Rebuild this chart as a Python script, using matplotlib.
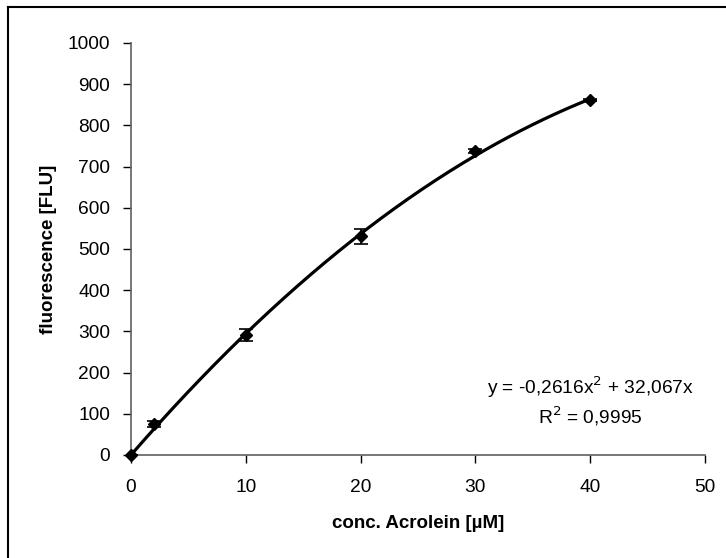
import numpy as np
import matplotlib.pyplot as plt
from matplotlib.lines import Line2D

plt.rcParams['font.family'] = ['Liberation Sans', 'DejaVu Sans']

# calibration points
conc = [0, 2, 10, 20, 30, 40]
fluor = [0, 75, 291, 531, 738, 862]
fluor_err = [0, 7, 15, 18, 5, 3]

# quadratic trendline y = a*x^2 + b*x
coef_a = -0.2616
coef_b = 32.067
r_squared = 0.9995

x_ticks = [0, 10, 20, 30, 40, 50]
y_ticks = [0, 100, 200, 300, 400, 500, 600, 700, 800, 900, 1000]

fig = plt.figure(figsize=(7.26, 5.58), dpi=100)
ax = fig.add_axes([0.1804, 0.1846, 0.7906, 0.7384])

xs = np.linspace(0, 40, 200)
ax.plot(xs, coef_a * xs ** 2 + coef_b * xs, color='black', lw=2.3, zorder=2)
marks = ax.errorbar(conc, fluor, yerr=fluor_err, fmt='D', color='black', ms=6.5,
                    ecolor='black', elinewidth=1.2, capsize=5, capthick=1.2,
                    zorder=3)
marks[0].set_clip_on(False)

ax.set_xlim(0, 50)
ax.set_ylim(0, 1000)
ax.set_xticks(x_ticks)
ax.set_yticks(y_ticks)
ax.tick_params(direction='out', length=6, width=1, color='black',
               labelsize=13.8)
ax.tick_params(axis='x', pad=11)
ax.tick_params(axis='y', pad=9)

for side in ['top', 'right']:
    ax.spines[side].set_visible(False)
for side in ['left', 'bottom']:
    ax.spines[side].set_color('#606060')
    ax.spines[side].set_linewidth(1.2)

ax.set_xlabel('conc. Acrolein [µM]', fontsize=13.5, fontweight='bold',
              labelpad=14)
ax.set_ylabel('fluorescence [FLU]', fontsize=13.5, fontweight='bold',
              labelpad=8)

eq = 'y = -0,2616x$^{2}$ + 32,067x'
ax.text(40.0, 165, eq, fontsize=13.8, ha='center', va='center')
ax.text(40.0, 95, 'R$^{2}$ = 0,9995', fontsize=13.8, ha='center', va='center')

# outer chart frame (only left and top edges fall inside the image)
fig.add_artist(Line2D([8 / 726, 8 / 726], [0, 1 - 7 / 558],
                      transform=fig.transFigure, color='black', lw=1.5))
fig.add_artist(Line2D([8 / 726, 1], [1 - 7 / 558, 1 - 7 / 558],
                      transform=fig.transFigure, color='black', lw=1.5))

fig.savefig('out.png', dpi=100)
